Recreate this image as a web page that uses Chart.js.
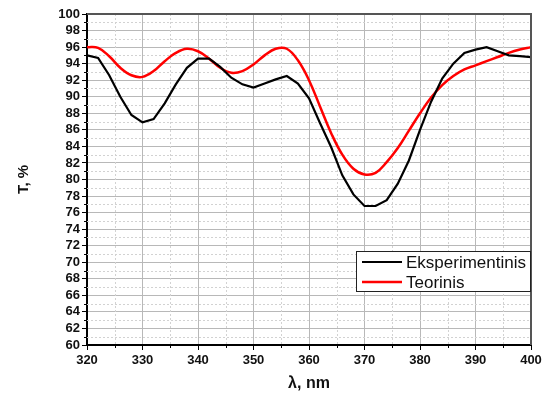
<!DOCTYPE html>
<html>
<head>
<meta charset="utf-8">
<script src="https://cdn.jsdelivr.net/npm/chart.js@4.4.1/dist/chart.umd.min.js"></script>
<style>
  html, body { margin: 0; padding: 0; background: #fff; }
  #wrap { width: 542px; height: 401px; }
</style>
</head>
<body>
<div id="wrap"><canvas id="chart" width="542" height="401"></canvas></div>
<script>
const wavelengths = [320, 322, 324, 326, 328, 330, 332, 334, 336, 338, 340, 342, 344, 346, 348, 350, 352, 354, 356, 358, 360,
  362, 364, 366, 368, 370, 372, 374, 376, 378, 380, 382, 384, 386, 388, 390, 392, 394, 396, 398, 400];
const experimental = [95.0, 94.7, 92.6, 90.0, 87.8, 86.9, 87.3, 89.2, 91.5, 93.5, 94.6, 94.6, 93.6, 92.3, 91.5, 91.1, 91.6, 92.1, 92.5, 91.6, 89.8,
  86.8, 83.9, 80.5, 78.2, 76.8, 76.8, 77.5, 79.5, 82.3, 86.0, 89.4, 92.2, 94.0, 95.3, 95.7, 96.0, 95.5, 95.0, 94.9, 94.8];
const theoretical = [96.0, 95.9, 94.9, 93.5, 92.6, 92.4, 93.1, 94.3, 95.3, 95.8, 95.5, 94.6, 93.5, 92.9, 93.1, 93.9, 95.0, 95.8, 95.8, 94.4, 92.0,
  88.8, 85.6, 83.0, 81.3, 80.6, 80.8, 82.1, 83.8, 85.9, 88.0, 89.9, 91.4, 92.5, 93.3, 93.8, 94.3, 94.8, 95.3, 95.7, 96.0];
const seriesLabels = ["Eksperimentinis", "Teorinis"];
const xTitle = "λ, nm";
const yTitle = "T, %";

const toPoints = (values) => values.map((v, i) => ({ x: wavelengths[i], y: v }));

// dashed minor grid + short minor ticks, drawn on the library's scales
const minorGrid = {
  id: "minorGrid",
  beforeDatasetsDraw(chart) {
    const { ctx, chartArea: a, scales: { x, y } } = chart;
    ctx.save();
    ctx.lineWidth = 1;
    ctx.strokeStyle = "#d2d2d2";
    ctx.setLineDash([2, 2]);
    for (let v = 61; v < 100; v += 2) {
      const py = Math.round(y.getPixelForValue(v)) + 0.5;
      ctx.beginPath(); ctx.moveTo(a.left, py); ctx.lineTo(a.right, py); ctx.stroke();
    }
    for (let v = 325; v < 400; v += 10) {
      const px = Math.round(x.getPixelForValue(v)) + 0.5;
      ctx.beginPath(); ctx.moveTo(px, a.top); ctx.lineTo(px, a.bottom); ctx.stroke();
    }
    ctx.setLineDash([]);
    ctx.strokeStyle = "#000";
    for (let v = 61; v < 100; v += 2) {
      const py = Math.round(y.getPixelForValue(v)) + 0.5;
      ctx.beginPath(); ctx.moveTo(a.left - 3, py); ctx.lineTo(a.left, py); ctx.stroke();
    }
    for (let v = 325; v < 400; v += 10) {
      const px = Math.round(x.getPixelForValue(v)) + 0.5;
      ctx.beginPath(); ctx.moveTo(px, a.bottom); ctx.lineTo(px, a.bottom + 3); ctx.stroke();
    }
    ctx.restore();
  },
};

// frame on top/right and the boxed legend inside the plot
const frameAndLegend = {
  id: "frameAndLegend",
  afterDraw(chart) {
    const { ctx, chartArea: a } = chart;
    ctx.save();
    ctx.strokeStyle = "#555";
    ctx.lineWidth = 2;
    ctx.beginPath();
    ctx.moveTo(a.left, a.top);
    ctx.lineTo(a.right, a.top);
    ctx.lineTo(a.right, a.bottom);
    ctx.stroke();

    const w = 175, h = 41;
    const left = a.right - w, top = a.top + 237;
    ctx.fillStyle = "#fff";
    ctx.fillRect(left, top, w, h);
    ctx.strokeStyle = "#222";
    ctx.lineWidth = 1;
    ctx.strokeRect(left + 0.5, top + 0.5, w - 1, h - 1);
    ctx.font = "17px 'Liberation Sans', Arial, sans-serif";
    ctx.textBaseline = "middle";
    chart.data.datasets.forEach((ds, i) => {
      const yy = top + 11 + i * 20;
      ctx.strokeStyle = ds.borderColor;
      ctx.lineWidth = ds.borderWidth;
      ctx.beginPath(); ctx.moveTo(left + 6, yy); ctx.lineTo(left + 46, yy); ctx.stroke();
      ctx.fillStyle = "#111";
      ctx.fillText(ds.label, left + 50, yy + 1);
    });
    ctx.restore();
  },
};

new Chart(document.getElementById("chart"), {
  type: "line",
  data: {
    datasets: [
      {
        label: seriesLabels[0],
        data: toPoints(experimental),
        borderColor: "#000",
        borderWidth: 2.2,
        pointRadius: 0,
        tension: 0,
      },
      {
        label: seriesLabels[1],
        data: toPoints(theoretical),
        borderColor: "#ff0000",
        borderWidth: 2.5,
        pointRadius: 0,
        tension: 0.4,
      },
    ],
  },
  options: {
    responsive: false,
    animation: false,
    layout: { padding: { top: 14, right: 11, left: 0, bottom: 0 } },
    plugins: { legend: { display: false }, tooltip: { enabled: false } },
    scales: {
      x: {
        type: "linear",
        min: 320,
        max: 400,
        afterFit: (s) => { s.height = 56; s.paddingRight = 0; s.paddingLeft = 0; },
        ticks: {
          stepSize: 10,
          padding: 3,
          autoSkip: false,
          maxRotation: 0,
          color: "#111",
          font: { family: "'Liberation Sans', Arial, sans-serif", size: 13, weight: "bold" },
        },
        grid: { color: "#b8b8b8", tickColor: "#000", tickLength: 5 },
        border: { color: "#000", width: 2 },
        title: {
          display: true,
          text: xTitle,
          color: "#111",
          padding: { top: 0, bottom: 8 },
          font: { family: "'Liberation Sans', Arial, sans-serif", size: 16, weight: "bold" },
        },
      },
      y: {
        min: 60,
        max: 100,
        afterFit: (s) => { s.width = 87; s.paddingTop = 0; s.paddingBottom = 0; },
        ticks: {
          stepSize: 2,
          padding: 2,
          autoSkip: false,
          color: "#111",
          font: { family: "'Liberation Sans', Arial, sans-serif", size: 13, weight: "bold" },
        },
        grid: { color: "#b8b8b8", tickColor: "#000", tickLength: 5 },
        border: { color: "#000", width: 2 },
        title: {
          display: true,
          text: yTitle,
          color: "#111",
          padding: { top: 15, bottom: 0 },
          font: { family: "'Liberation Sans', Arial, sans-serif", size: 15, weight: "bold" },
        },
      },
    },
  },
  plugins: [minorGrid, frameAndLegend],
});
</script>
</body>
</html>
